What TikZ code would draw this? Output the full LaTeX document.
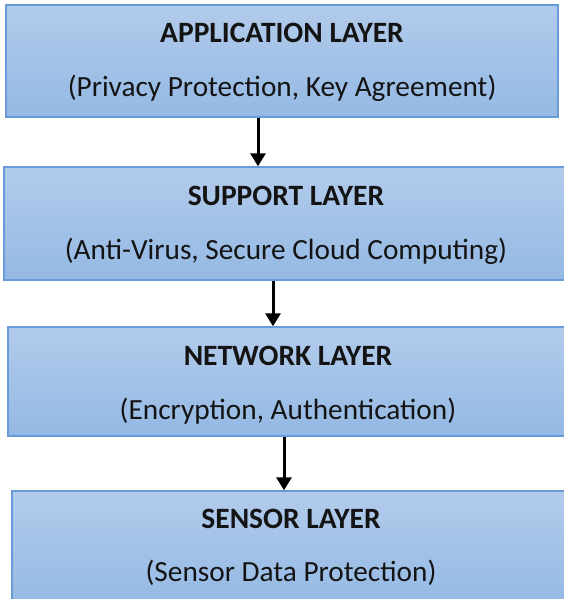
\documentclass[tikz,border=0pt]{standalone}
\usepackage{fontspec}
\setmainfont{Carlito}
\usetikzlibrary{arrows.meta}
\definecolor{boxtop}{RGB}{178,203,235}
\definecolor{boxbot}{RGB}{148,185,228}
\definecolor{boxedge}{RGB}{105,155,218}
\definecolor{ink}{RGB}{20,20,20}
\tikzset{
  layerbox/.style={draw=boxedge, line width=1.4pt, top color=boxtop, bottom color=boxbot, inner sep=0pt},
  title/.style={anchor=base, text=ink, font=\fontsize{29.5}{32}\selectfont\bfseries, inner sep=0pt},
  subtitle/.style={anchor=base, text=ink, font=\fontsize{29.3}{32}\selectfont, inner sep=0pt},
  arr/.style={draw=black, line width=3pt, -{Triangle[width=15pt,length=13pt]}}
}
\begin{document}
\begin{tikzpicture}[x=1pt,y=-1pt]
  \useasboundingbox (0,0) rectangle (564,599);
  \clip (0,0) rectangle (564,599);
  % layer boxes
  \node[layerbox, minimum width=552pt, minimum height=112pt] (app) at (282,61) {};
  \node[layerbox, minimum width=564pt, minimum height=113pt] (sup) at (286,223.5) {};
  \node[layerbox, minimum width=560pt, minimum height=109pt] (net) at (288,381.5) {};
  \node[layerbox, minimum width=558pt, minimum height=116pt] (sen) at (291,549) {};
  % labels
  \node[title] (appt) at (282,43) {APPLICATION LAYER};
  \node[subtitle] (apps) at (282,97) {(Privacy Protection, Key Agreement)};
  \node[title] (supt) at (286,205) {SUPPORT LAYER};
  \node[subtitle] (sups) at (286,259) {(Anti-Virus, Secure Cloud Computing)};
  \node[title] (nett) at (288,365) {NETWORK LAYER};
  \node[subtitle] (nets) at (288,419) {(Encryption, Authentication)};
  \node[title] (sent) at (291,528) {SENSOR LAYER};
  \node[subtitle] (sens) at (291,581) {(Sensor Data Protection)};
  % arrow columns
  \coordinate (c1) at (258,0);
  \coordinate (c2) at (273,0);
  \coordinate (c3) at (284,0);
  \draw[arr] (app.south -| c1) -- (sup.north -| c1);
  \draw[arr] (sup.south -| c2) -- (net.north -| c2);
  \draw[arr] (net.south -| c3) -- (sen.north -| c3);
\end{tikzpicture}
\end{document}
